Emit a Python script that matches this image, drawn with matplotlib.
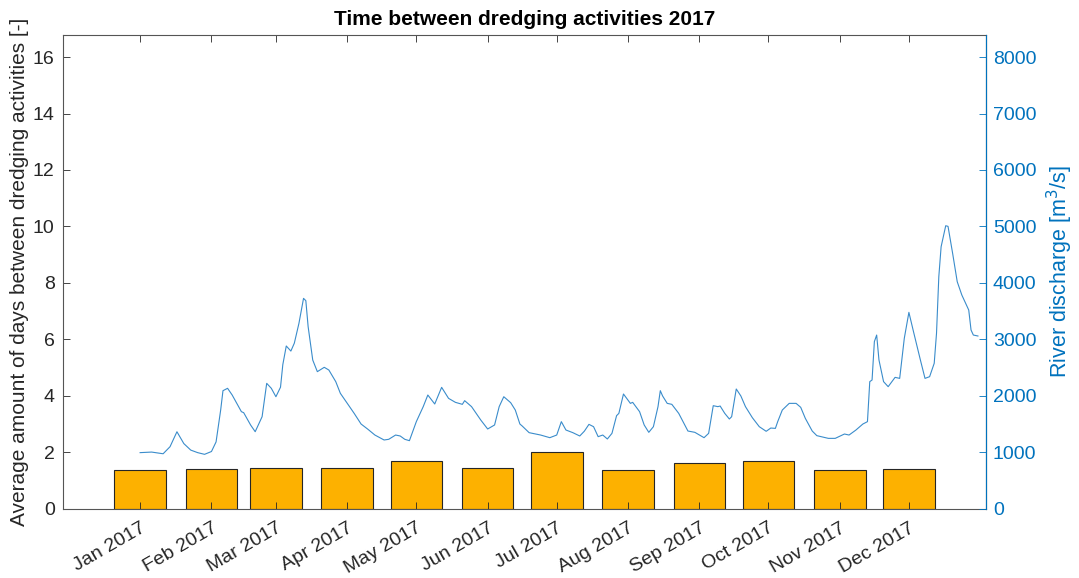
import numpy as np
import matplotlib
matplotlib.use("Agg")
import matplotlib.pyplot as plt
import matplotlib.dates as mdates
from matplotlib.ticker import FixedLocator

plt.rcParams['font.family'] = ['Liberation Sans', 'DejaVu Sans']

# Monthly average time between dredging activities (days)
months = ['Jan 2017', 'Feb 2017', 'Mar 2017', 'Apr 2017', 'May 2017', 'Jun 2017',
          'Jul 2017', 'Aug 2017', 'Sep 2017', 'Oct 2017', 'Nov 2017', 'Dec 2017']
avg_days = [1.38, 1.41, 1.42, 1.42, 1.70, 1.42, 1.99, 1.35, 1.63, 1.70, 1.36, 1.385]

# River discharge (m3/s), day offset from 1 Jan 2017
q_day = [0, 5, 10, 13, 16, 19, 22, 25, 28, 31, 33, 35, 36, 38, 40, 44, 45, 48, 50, 53,
         55, 57, 59, 61, 62, 63.5, 65.5, 67, 69, 71, 72, 73, 75, 77, 80, 82, 85, 87, 90, 93,
         96, 99, 102, 106, 108, 111, 113, 115, 117, 120, 123, 125, 128, 131, 134, 137, 140, 141, 144, 148,
         151, 154, 156, 158, 161, 163, 165, 166, 169, 174, 178, 181, 183, 185, 188, 191, 193, 195, 197, 199,
         201, 203, 205, 207, 208, 210, 213, 214, 217, 219, 221, 223, 225, 226, 227, 229, 231, 234, 238, 241,
         245, 247, 249, 251, 252, 254, 256, 257, 259, 261, 263, 266, 269, 272, 274, 276, 277, 279, 282, 285,
         287, 289, 292, 294, 299, 302, 306, 308, 311, 314, 316, 317, 318, 319, 320, 321, 323, 325, 328, 330,
         332, 334, 336, 339, 341, 343, 345, 346, 347, 348, 350, 351, 353, 355, 357, 360, 361, 362, 364]
q_val = [990, 1000, 970, 1095, 1360, 1150, 1035, 990, 960, 1010, 1180, 1745, 2088, 2130, 2011, 1716, 1698, 1480, 1361, 1627,
         2218, 2130, 1981, 2150, 2550, 2880, 2790, 2930, 3281, 3724, 3683, 3222, 2631, 2425, 2502, 2454, 2248, 2041, 1863, 1686,
         1497, 1403, 1302, 1214, 1226, 1302, 1285, 1226, 1202, 1539, 1805, 2011, 1852, 2147, 1952, 1881, 1846, 1911, 1805, 1568,
         1409, 1480, 1805, 1981, 1875, 1745, 1497, 1462, 1344, 1302, 1255, 1302, 1539, 1391, 1344, 1285, 1370, 1491, 1450, 1273,
         1302, 1232, 1332, 1645, 1686, 2029, 1863, 1881, 1716, 1480, 1350, 1450, 1805, 2088, 1994, 1863, 1846, 1686, 1373, 1350,
         1255, 1332, 1822, 1805, 1816, 1686, 1586, 1627, 2118, 1994, 1805, 1609, 1450, 1368, 1426, 1420, 1539, 1745, 1863, 1863,
         1793, 1598, 1373, 1291, 1243, 1243, 1320, 1302, 1391, 1497, 1539, 2248, 2277, 2957, 3074, 2631, 2248, 2159, 2324, 2306,
         3015, 3476, 3134, 2631, 2306, 2336, 2573, 3104, 4108, 4639, 5011, 5000, 4522, 4019, 3783, 3517, 3163, 3074, 3057]

bar_color = '#FDB100'
blue = '#0072BD'
dark = '#262626'

month_dates = [mdates.date2num(np.datetime64('2017-%02d-01' % (i + 1))) for i in range(12)]
t0 = mdates.date2num(np.datetime64('2017-01-01'))
q_dates = [t0 + d for d in q_day]

fig = plt.figure(figsize=(10.79, 5.78), dpi=100)
ax = fig.add_axes([63 / 1079, 1 - 508.5 / 578, (986 - 63) / 1079, (508.5 - 34.5) / 578])

ax.bar(month_dates, avg_days, width=22.4, color=bar_color, edgecolor=dark, linewidth=0.8, zorder=1)
ax.set_xlim(month_dates[0] - 33.5, month_dates[-1] + 33.5)
ax.set_ylim(0, 16.8)
ax.set_yticks(np.arange(0, 17, 2))
ax.xaxis.set_major_locator(FixedLocator(month_dates))
ax.set_xticklabels(months, rotation=30, ha='right', rotation_mode='anchor')
ax.tick_params(axis='x', direction='in', top=True, length=5, width=0.6, color=dark,
               labelsize=14, labelcolor=dark, pad=8)
ax.tick_params(axis='y', direction='in', length=5, width=0.6, color=dark,
               labelsize=14, labelcolor=dark, right=False, pad=6)
for side in ['left', 'bottom', 'top']:
    ax.spines[side].set_color('#555555')
    ax.spines[side].set_linewidth(0.8)
ax.set_ylabel('Average amount of days between dredging activities [-]', fontsize=15, color=dark, labelpad=3)
ax.set_title('Time between dredging activities 2017', fontsize=15, fontweight='bold', color='black', pad=7)

ax2 = ax.twinx()
ax2.plot(q_dates, q_val, color='#3A8CCB', linewidth=0.8)
ax2.set_ylim(0, 8400)
ax2.set_yticks(np.arange(0, 8001, 1000))
ax2.tick_params(axis='y', direction='in', length=5, width=0.6, color=blue,
                labelsize=14, labelcolor=blue, pad=5)
ax2.spines['right'].set_color(blue)
ax2.spines['right'].set_linewidth(0.8)
for side in ['left', 'bottom', 'top']:
    ax2.spines[side].set_visible(False)
ax2.set_ylabel('River discharge [m$^3$/s]', fontsize=15.5, color=blue, labelpad=6)

fig.savefig('out.png', dpi=100)
